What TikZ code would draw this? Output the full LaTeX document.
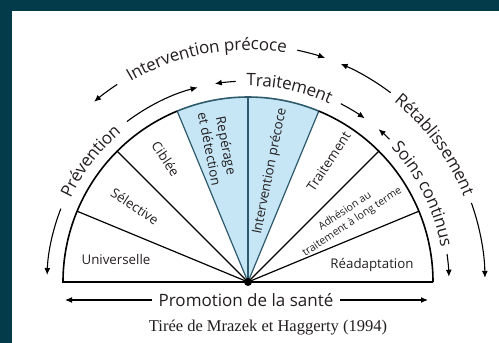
\documentclass[tikz,border=0pt]{standalone}
\usepackage{fontspec}
\setmainfont{Liberation Serif}
\setsansfont{Open Sans}
\usetikzlibrary{arrows.meta,decorations.text}
\definecolor{framecol}{HTML}{033B4A}
\definecolor{bluefill}{HTML}{C6E6F6}
\definecolor{blueline}{HTML}{2E5A6C}
\definecolor{inkcol}{HTML}{231F20}
\tikzset{
  arr/.style={line width=1.1pt,-{Latex[length=7pt,width=6pt]}},
  sector/.style={line width=1.2pt},
  secttext/.style={font=\sffamily\fontsize{13.3}{15}\selectfont,text=inkcol,inner sep=0pt},
  arctext/.style={decorate,decoration={text along path,text align=center,raise=-5pt,
      text={|\sffamily\fontsize{17}{17}\selectfont\color{inkcol}|#1}}}
}
\begin{document}
\begin{tikzpicture}[x=1pt,y=1pt,style=thick]
        \fill[framecol] (0,0) rectangle (499,343);
        \fill[white] (12,0) rectangle (499,332);
        \useasboundingbox (0,0) rectangle (499,343);
        \coordinate (O) at (248,61);
        \coordinate (L) at (63,61);
        \coordinate (R) at (433,61);

        \fill[bluefill] (O) -- ([shift={(112.5:185)}]O) arc[start angle=112.5,end angle=67.5,radius=185] -- cycle;

        \draw[sector] (O) -- ([shift={(157.5:185)}]O);
        \draw[sector] (O) -- ([shift={(135:185)}]O);
        \draw[sector] (O) -- ([shift={(45:185)}]O);
        \draw[sector] (O) -- ([shift={(22.5:185)}]O);
        \draw[sector,blueline] (O) -- ([shift={(112.5:185)}]O);
        \draw[sector,blueline] (O) -- ([shift={(90:185)}]O);
        \draw[sector,blueline] (O) -- ([shift={(67.5:185)}]O);

        \draw[line width=1.6pt] (R) -- (L) arc[start angle=180,end angle=112.5,radius=185];
        \draw[line width=1.6pt,blueline] ([shift={(112.5:185)}]O) arc[start angle=112.5,end angle=67.5,radius=185];
        \draw[line width=1.6pt] ([shift={(67.5:185)}]O) arc[start angle=67.5,end angle=0,radius=185];
        \fill (O) circle (4pt);

        \node[secttext] (univ) at ([shift={(-132,22)}]O) {Universelle};
        \node[secttext,rotate=-33.75] (select) at ([shift={(146.25:136)}]O) {Sélective};
        \node[secttext,rotate=-56.25] (cible) at ([shift={(123.75:148)}]O) {Ciblée};
        \node[secttext,rotate=-78.75,align=center] (reperage) at ([shift={(102.5:138)}]O) {Repérage\\[2pt]et détection};
        \node[secttext,rotate=78.75] (interv) at ([shift={(78.75:113)}]O) {Intervention précoce};
        \node[secttext,rotate=56.25] (trait) at ([shift={(56.25:145)}]O) {Traitement};
        \node[secttext,rotate=33.75,align=center,font=\sffamily\fontsize{10.5}{13}\selectfont] (adhes) at ([shift={(33:120)}]O) {Adhésion au\\traitement à long terme};
        \node[secttext] (readapt) at ([shift={(124,17)}]O) {Réadaptation};

        \path[arctext={Prévention}] ([shift={(162.5:201)}]O) arc[start angle=162.5,end angle=122.5,radius=201];
        \draw[arr] ([shift={(158.6:201)}]O) arc[start angle=158.6,end angle=178,radius=201];
        \draw[arr] ([shift={(127:201)}]O) arc[start angle=127,end angle=104.5,radius=201];

        \path[arctext={Traitement}] ([shift={(98:201)}]O) arc[start angle=98,end angle=58,radius=201];
        \draw[arr] ([shift={(93.5:201)}]O) arc[start angle=93.5,end angle=99.5,radius=201];
        \draw[arr] ([shift={(62.5:201)}]O) arc[start angle=62.5,end angle=54.5,radius=201];

        \path[arctext={Soins continus}] ([shift={(50:201)}]O) arc[start angle=50,end angle=3.4,radius=201];
        \draw[arr] ([shift={(45.3:201)}]O) arc[start angle=45.3,end angle=49.5,radius=201];
        \draw[arr] ([shift={(8:201)}]O) arc[start angle=8,end angle=1.5,radius=201];

        \path[arctext={Intervention précoce}] ([shift={(125:237)}]O) arc[start angle=125,end angle=76,radius=237];
        \draw[arr] ([shift={(123.5:237)}]O) arc[start angle=123.5,end angle=130.5,radius=237];
        \draw[arr] ([shift={(78:237)}]O) arc[start angle=78,end angle=71,radius=237];

        \path[arctext={Rétablissement}] ([shift={(56.3:237)}]O) arc[start angle=56.3,end angle=16.3,radius=237];
        \draw[arr] ([shift={(53:237)}]O) arc[start angle=53,end angle=67,radius=237];
        \draw[arr] ([shift={(19.5:237)}]O) arc[start angle=19.5,end angle=1,radius=237];

        \node[font=\sffamily\fontsize{17}{17}\selectfont,text=inkcol,inner sep=6pt] (promo) at (246,43) {Promotion de la santé};
        \coordinate (promoL) at (65,43);
        \coordinate (promoR) at (428,43);
        \draw[arr] (promo.west) -- (promoL);
        \draw[arr] (promo.east) -- (promoR);
        \node[font=\fontsize{16.5}{16.5}\selectfont,text=inkcol] (source) at (268,15) {Tirée de Mrazek et Haggerty (1994)};
\end{tikzpicture}
\end{document}
